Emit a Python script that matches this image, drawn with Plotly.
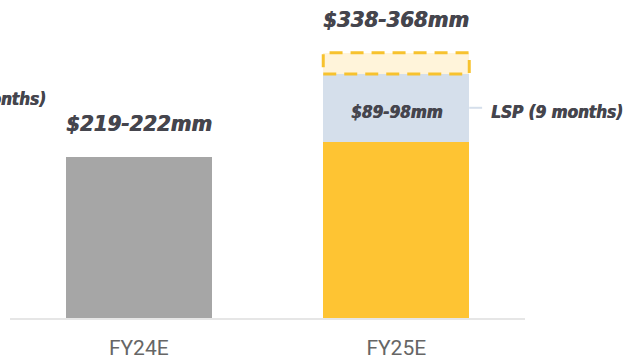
import plotly.graph_objects as go

categories = ["FY24E", "FY25E"]
base_values = [219, 240]          # gray FY24E, yellow FY25E base
lsp_values = [0, 92]              # LSP contribution (FY25E)
upside_values = [0, 29]           # dashed upside range
total_labels = ["$219-222mm", "$338-368mm"]
lsp_label = "$89-98mm"
lsp_side_label = "LSP (9 months)"
left_side_label = "LSP (3 months)"

bar_colors = ["#A6A6A6", "#FEC433"]
BAR_W = 0.567
TXT = "#45454d"
LABEL_FONT = "DejaVu Sans Condensed"
THICK = "0.7px 0px 0px #45454d"

fig = go.Figure()
fig.add_trace(go.Bar(x=[0, 1], y=base_values, width=BAR_W,
                     marker=dict(color=bar_colors, line=dict(width=0)),
                     hoverinfo="skip"))
fig.add_trace(go.Bar(x=[0, 1], y=lsp_values, width=BAR_W,
                     marker=dict(color="#D5DFEB", line=dict(width=0)),
                     hoverinfo="skip"))
fig.add_trace(go.Bar(x=[0, 1], y=upside_values, width=BAR_W,
                     marker=dict(color="#FFF4DA", line=dict(width=0)),
                     hoverinfo="skip"))

# dashed outline around upside segment
lo = base_values[1] + lsp_values[1]
hi = lo + upside_values[1]
fig.add_shape(type="rect", xref="x", yref="y",
              x0=1 - BAR_W / 2, x1=1 + BAR_W / 2, y0=lo, y1=hi,
              line=dict(color="#F7C22E", width=3, dash="13px,8px"),
              fillcolor="rgba(0,0,0,0)", layer="above")

# connector line to LSP label
mid = base_values[1] + lsp_values[1] / 2
fig.add_shape(type="line", xref="x", yref="y",
              x0=1 + BAR_W / 2, x1=1 + BAR_W / 2 + 0.05, y0=mid, y1=mid,
              line=dict(color="#D5DFEB", width=2))

lab_font = dict(family=LABEL_FONT, size=22, color=TXT, weight="bold",
                style="italic", shadow=THICK)
small_font = dict(family=LABEL_FONT, size=17, color=TXT, weight="bold",
                  style="italic", shadow=THICK)

tops = [b + l + u for b, l, u in zip(base_values, lsp_values, upside_values)]
for i, (t, lab) in enumerate(zip(tops, total_labels)):
    fig.add_annotation(x=i, y=t, text=lab, showarrow=False, yanchor="bottom",
                       yshift=19, font=lab_font)

fig.add_annotation(x=1, y=mid, text=lsp_label, showarrow=False, yshift=-4,
                   font=small_font)
fig.add_annotation(x=1 + BAR_W / 2, y=mid, text=lsp_side_label, showarrow=False,
                   xanchor="left", xshift=20, yshift=-4, font=small_font)
fig.add_annotation(x=-BAR_W / 2, y=299, text=left_side_label, showarrow=False,
                   xanchor="right", xshift=-18, yshift=-1, font=small_font)

fig.update_layout(
    width=635, height=362,
    margin=dict(l=10, r=110, t=24, b=44),
    paper_bgcolor="white", plot_bgcolor="white",
    barmode="stack", showlegend=False,
    xaxis=dict(range=[-0.5, 1.5], tickvals=[0, 1], ticktext=categories,
               showgrid=False, zeroline=False, showline=True, automargin=False,
               linecolor="#E6E6E6", linewidth=2, ticks="", ticklabelstandoff=10,
               tickfont=dict(family="Liberation Sans Narrow, Roboto", size=21, color="#666666")),
    yaxis=dict(range=[0, 400], visible=False, showgrid=False, zeroline=False,
               automargin=False),
)

fig.write_html("out.html")
